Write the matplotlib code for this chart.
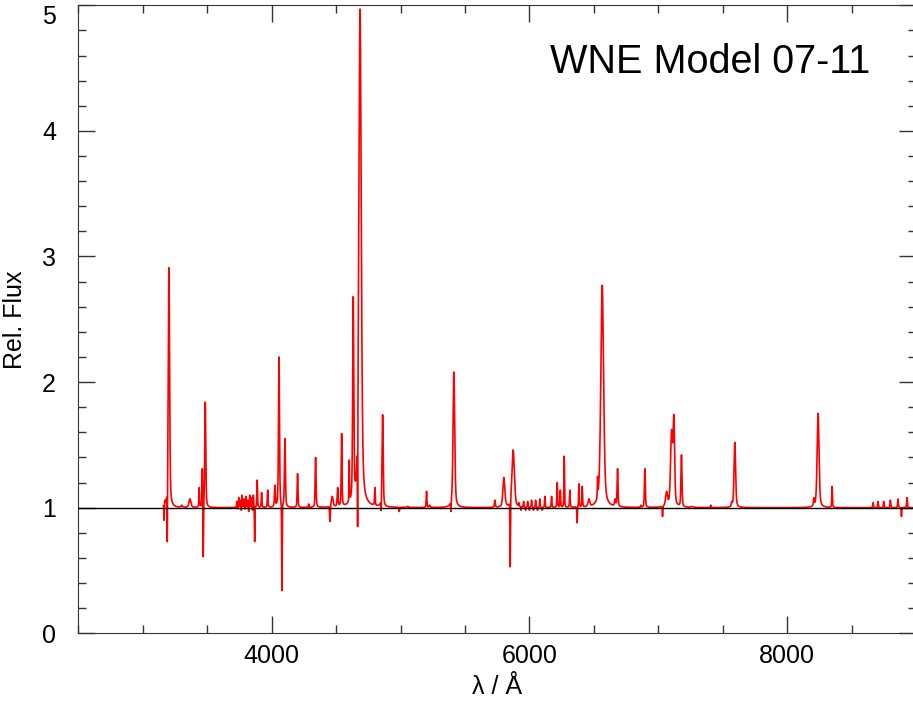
import numpy as np
import matplotlib
matplotlib.use("Agg")
import matplotlib.pyplot as plt
from matplotlib.ticker import MultipleLocator

# emission lines: centre (A), peak rel. flux, FWHM (A)
em_center = [3170, 3203, 3302, 3366, 3438, 3462, 3485,
             3730, 3745, 3758, 3770, 3785, 3800, 3815, 3830, 3845, 3858,
             3888, 3922, 3969, 4025, 4057, 4103, 4201, 4287, 4341,
             4470, 4512, 4543, 4602, 4633, 4686, 4801, 4861, 5054, 5202, 5225,
             5414, 5732, 5802, 5874,
             5918, 5955, 5986, 6017, 6048, 6081, 6120,
             6172, 6216, 6240, 6270, 6314, 6384, 6410, 6462,
             6529, 6565, 6665, 6684, 6865, 6896,
             7064, 7103, 7121, 7180, 7260, 7408, 7570, 7594,
             8207, 8240, 8349, 8667, 8705, 8749, 8801, 8860, 8930]
em_peak = [1.06, 2.91, 1.02, 1.07, 1.16, 1.31, 1.84,
           1.05, 1.08, 1.06, 1.10, 1.07, 1.09, 1.06, 1.10, 1.08, 1.10,
           1.22, 1.12, 1.14, 1.18, 2.20, 1.55, 1.27, 1.03, 1.40,
           1.09, 1.16, 1.59, 1.38, 2.68, 4.97, 1.16, 1.74, 1.01, 1.13, 1.02,
           2.08, 1.06, 1.24, 1.46,
           1.04, 1.05, 1.05, 1.06, 1.06, 1.07, 1.09,
           1.09, 1.20, 1.14, 1.41, 1.14, 1.19, 1.17, 1.07,
           1.25, 2.77, 1.07, 1.31, 1.02, 1.31,
           1.13, 1.62, 1.74, 1.42, 1.01, 1.02, 1.05, 1.52,
           1.08, 1.75, 1.17, 1.04, 1.05, 1.05, 1.06, 1.07, 1.08]
em_fwhm = [5, 12, 12, 18, 6, 5, 9,
           5, 5, 5, 5, 5, 5, 5, 5, 5, 5,
           6, 6, 6, 8, 9, 9, 7, 5, 8,
           16, 8, 7, 5, 10, 22, 6, 10, 14, 6, 10,
           15, 8, 18, 22,
           5, 5, 5, 5, 5, 5, 5,
           6, 6, 6, 5, 6, 5, 6, 16,
           5, 25, 10, 8, 5, 8,
           18, 18, 14, 9, 25, 5, 8, 14,
           8, 17, 6, 6, 6, 6, 6, 6, 6]

# absorption troughs: centre (A), minimum rel. flux, FWHM (A)
ab_center = [3165, 3190, 3469, 3738, 3765, 3792, 3822, 3852, 3868, 4080,
             4452, 4667, 4850, 4990, 5391,
             5851, 5935, 5970, 6000, 6032, 6063, 6100, 6370, 7033, 8887]
ab_min = [0.90, 0.73, 0.61, 0.99, 0.98, 0.99, 0.97, 0.98, 0.73, 0.34,
          0.89, 0.85, 0.98, 0.97, 0.97,
          0.53, 0.98, 0.98, 0.98, 0.98, 0.98, 0.98, 0.88, 0.93, 0.93]
ab_fwhm = [4, 4, 4, 4, 4, 4, 4, 4, 4, 5,
           6, 4, 4, 5, 4,
           5, 4, 4, 4, 4, 4, 4, 5, 5, 5]


def pv(x, c, w, eta=0.45):
    u = (x - c) / w
    return eta / (1 + 4 * u**2) + (1 - eta) * np.exp(-4 * np.log(2) * u**2)


wl = np.arange(3160, 9000, 0.5)
ec, ew = np.array(em_center, float), np.array(em_fwhm, float)
M = pv(ec[:, None], ec[None, :], ew[None, :])
amp = np.linalg.solve(M, np.array(em_peak) - 1)
flux = 1 + (amp[None, :] * pv(wl[:, None], ec[None, :], ew[None, :])).sum(axis=1)
for c, fmin, w in zip(ab_center, ab_min, ab_fwhm):
    f0 = np.interp(c, wl, flux)
    d = 1 - fmin / f0
    flux = flux * (1 - d * np.exp(-4 * np.log(2) * ((wl - c) / w) ** 2))

plt.rcParams["font.family"] = ["Liberation Sans", "DejaVu Sans"]
fig = plt.figure(figsize=(9.13, 7.05), dpi=100)
ax = fig.add_axes([0.0858, 0.1017, 0.9175, 0.8908])
ax.plot(wl, flux, color="red", lw=1.2)
ax.axhline(1, color="black", lw=1.0, zorder=3)
ax.set_xlim(2500, 9000)
ax.set_ylim(0, 5)
ax.xaxis.set_major_locator(MultipleLocator(2000))
ax.xaxis.set_minor_locator(MultipleLocator(500))
ax.yaxis.set_major_locator(MultipleLocator(1))
ax.yaxis.set_minor_locator(MultipleLocator(0.2))
ax.tick_params(which="both", direction="in", top=True, right=True, width=1, colors="#333333", labelcolor="black")
ax.tick_params(which="major", length=12, labelsize=18)
ax.tick_params(which="minor", length=6)
ax.tick_params(axis="y", pad=16)
ax.tick_params(axis="x", pad=8)
for s in ax.spines.values():
    s.set_color("#333333")
ax.set_xlabel("λ / Å", fontsize=18, labelpad=5)
ax.set_ylabel("Rel. Flux", fontsize=18, labelpad=11)
fig.text(870 / 913, 1 - 73 / 705, "WNE Model 07-11", ha="right", va="baseline", fontsize=28.5)
fig.canvas.draw()
for lab in ax.get_yticklabels():
    if lab.get_text() == "5":
        lab.set_va("top")
fig.savefig("out.png", dpi=100)
